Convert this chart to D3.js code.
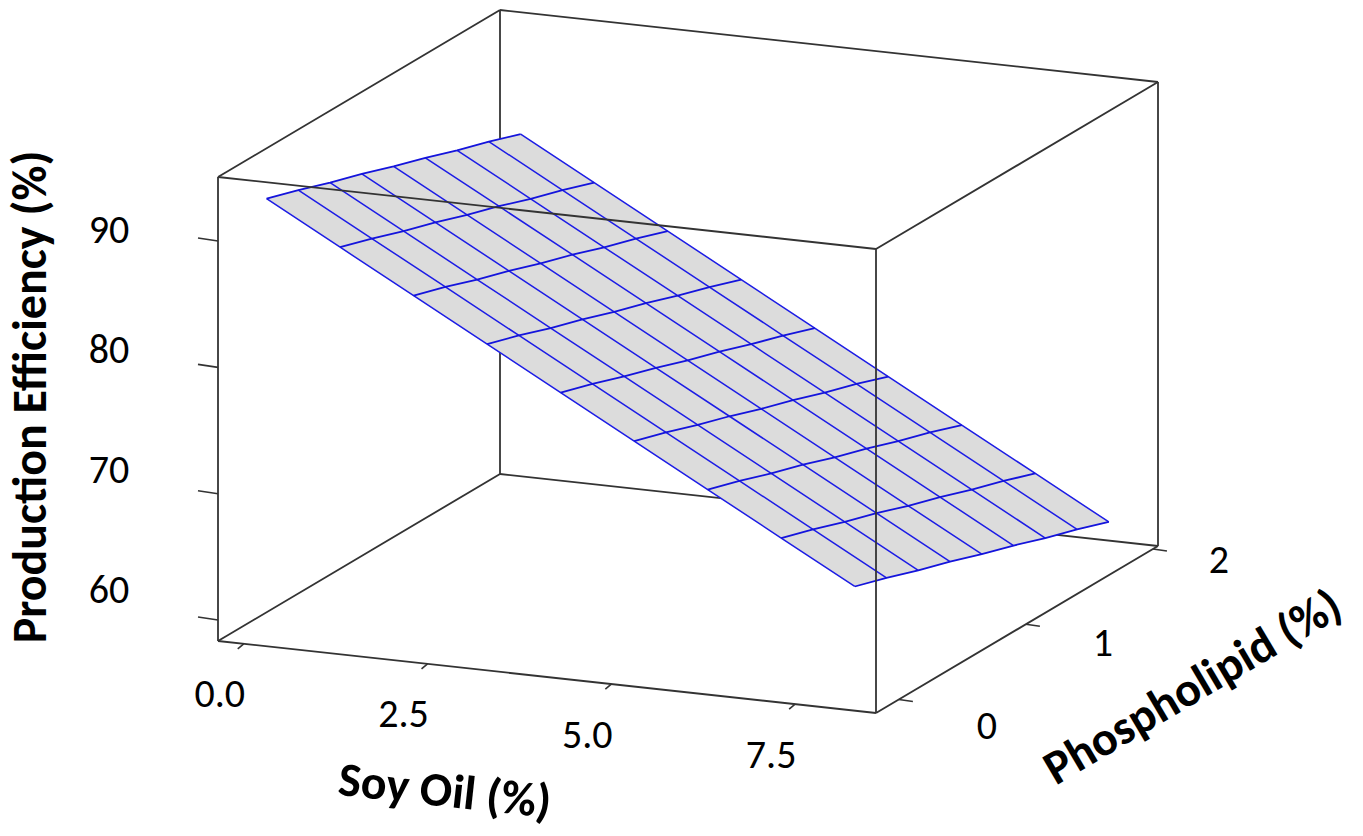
<!DOCTYPE html>
<html>
<head>
<meta charset="utf-8">
<script src="https://cdn.jsdelivr.net/npm/d3@7"></script>
<style>
  body { margin: 0; background: #fff; }
  text { font-family: Carlito, Calibri, Lato, sans-serif; fill: #000; }
</style>
</head>
<body>
<div class="surface"></div>
<script>
// factor levels of the fitted surface grid
var soyOil = [0, 1, 2, 3, 4, 5, 6, 7, 8];
var phospholipid = [0, 0.25, 0.5, 0.75, 1, 1.25, 1.5, 1.75, 2];

// production efficiency (%), one row per phospholipid level
var efficiency = [
  [92.5, 89.3, 86.1, 82.9, 79.7, 76.5, 73.3, 70.1, 66.9],
  [91.7, 88.5, 85.3, 82.1, 78.9, 75.7, 72.5, 69.3, 66.1],
  [90.8, 87.6, 84.4, 81.2, 78.0, 74.8, 71.6, 68.4, 65.2],
  [90.0, 86.8, 83.6, 80.4, 77.2, 74.0, 70.8, 67.6, 64.4],
  [89.1, 85.9, 82.7, 79.5, 76.3, 73.1, 69.9, 66.7, 63.5],
  [88.3, 85.1, 81.9, 78.7, 75.5, 72.3, 69.1, 65.9, 62.7],
  [87.4, 84.2, 81.0, 77.8, 74.6, 71.4, 68.2, 65.0, 61.8],
  [86.6, 83.4, 80.2, 77.0, 73.8, 70.6, 67.4, 64.2, 61.0],
  [85.7, 82.5, 79.3, 76.1, 72.9, 69.7, 66.5, 63.3, 60.1]
];

var effTicks = [60, 70, 80, 90];
var soyTicks = [0, 2.5, 5, 7.5];
var soyTickLabels = ["0.0", "2.5", "5.0", "7.5"];
var phosTicks = [0, 1, 2];

var soyDomain = [-0.35, 8.6];
var phosDomain = [-0.18, 2.04];
var effDomain = [58.34, 95.07];

var width = 1363, height = 836;

// oblique projection of the box
var origin = [218, 641],
    U = [658, 72],
    V = [282, -167],
    boxH = 464;

var us = d3.scaleLinear().domain(soyDomain).range([0, 1]);
var vs = d3.scaleLinear().domain(phosDomain).range([0, 1]);
var zs = d3.scaleLinear().domain(effDomain).range([0, boxH]);

function proj(u, v, z) {
  var a = us(u), b = vs(v);
  return [origin[0] + a * U[0] + b * V[0],
          origin[1] + a * U[1] + b * V[1] - zs(z)];
}

var svg = d3.select(".surface").append("svg")
  .attr("width", width)
  .attr("height", height);

var line = d3.line();

var u0 = soyDomain[0], u1 = soyDomain[1],
    v0 = phosDomain[0], v1 = phosDomain[1],
    z0 = effDomain[0], z1 = effDomain[1];

function edge(g, a, b) {
  g.append("path")
    .attr("d", line([proj(a[0], a[1], a[2]), proj(b[0], b[1], b[2])]))
    .attr("fill", "none")
    .attr("stroke", "#333")
    .attr("stroke-width", 1.8);
}

// edges hidden behind the surface
var back = svg.append("g");
edge(back, [u0, v1, z0], [u0, v1, z1]);
edge(back, [u0, v1, z0], [u1, v1, z0]);
edge(back, [u0, v0, z0], [u0, v1, z0]);

// surface cells
var surf = svg.append("g");
for (var j = 0; j < phospholipid.length - 1; j++) {
  for (var i = 0; i < soyOil.length - 1; i++) {
    var cell = [
      proj(soyOil[i], phospholipid[j], efficiency[j][i]),
      proj(soyOil[i + 1], phospholipid[j], efficiency[j][i + 1]),
      proj(soyOil[i + 1], phospholipid[j + 1], efficiency[j + 1][i + 1]),
      proj(soyOil[i], phospholipid[j + 1], efficiency[j + 1][i])
    ];
    surf.append("path")
      .attr("d", line(cell) + "Z")
      .attr("fill", "#dcdcdc")
      .attr("stroke", "#dcdcdc")
      .attr("stroke-width", 0.6);
  }
}

// mesh lines
phospholipid.forEach(function(p, j) {
  surf.append("path")
    .attr("d", line(soyOil.map(function(s, i) { return proj(s, p, efficiency[j][i]); })))
    .attr("fill", "none")
    .attr("stroke", "#1c1ce6")
    .attr("stroke-width", 1.5);
});
soyOil.forEach(function(s, i) {
  surf.append("path")
    .attr("d", line(phospholipid.map(function(p, j) { return proj(s, p, efficiency[j][i]); })))
    .attr("fill", "none")
    .attr("stroke", "#1414dc")
    .attr("stroke-width", 1.8);
});

// remaining box edges
var front = svg.append("g");
edge(front, [u0, v0, z0], [u1, v0, z0]);
edge(front, [u1, v0, z0], [u1, v1, z0]);
edge(front, [u1, v1, z0], [u1, v1, z1]);
edge(front, [u0, v0, z0], [u0, v0, z1]);
edge(front, [u0, v0, z1], [u0, v1, z1]);
edge(front, [u0, v1, z1], [u1, v1, z1]);
edge(front, [u1, v1, z1], [u1, v0, z1]);
edge(front, [u0, v0, z1], [u1, v0, z1]);
edge(front, [u1, v0, z0], [u1, v0, z1]);

// ticks and tick labels
var axes = svg.append("g");

effTicks.forEach(function(t) {
  var p = proj(u0, v0, t);
  axes.append("path")
    .attr("d", line([p, [p[0] - 20, p[1] - 3]]))
    .attr("stroke", "#333").attr("stroke-width", 1.6);
  axes.append("text")
    .attr("x", p[0] - 109)
    .attr("y", p[1] - 12 - (90 - t) * 0.62)
    .attr("text-anchor", "middle")
    .attr("dominant-baseline", "central")
    .style("font-size", "40px")
    .text(t);
});

soyTicks.forEach(function(t, k) {
  var p = proj(t, v0, z0);
  axes.append("path")
    .attr("d", line([p, [p[0] - 6, p[1] + 5]]))
    .attr("stroke", "#333").attr("stroke-width", 1.6);
  axes.append("text")
    .attr("x", p[0] - 24)
    .attr("y", p[1] + 50)
    .attr("text-anchor", "middle")
    .attr("dominant-baseline", "central")
    .style("font-size", "40px")
    .text(soyTickLabels[k]);
});

phosTicks.forEach(function(t) {
  var p = proj(u1, t, z0);
  axes.append("path")
    .attr("d", line([p, [p[0] + 14, p[1] + 2]]))
    .attr("stroke", "#333").attr("stroke-width", 1.6);
  axes.append("text")
    .attr("x", p[0] + 88 - 11 * t)
    .attr("y", p[1] + 26 - 8 * t)
    .attr("text-anchor", "middle")
    .attr("dominant-baseline", "central")
    .style("font-size", "40px")
    .text(t);
});

// axis titles
svg.append("text")
  .attr("transform", "translate(46,397) rotate(-90)")
  .attr("text-anchor", "middle")
  .style("font-size", "48px")
  .style("font-weight", "bold")
  .text("Production Efficiency (%)");

svg.append("text")
  .attr("transform", "translate(445,790) rotate(6.2)")
  .attr("text-anchor", "middle")
  .attr("dominant-baseline", "central")
  .style("font-size", "48px")
  .style("font-weight", "bold")
  .text("Soy Oil (%)");

svg.append("text")
  .attr("transform", "translate(1192,686) rotate(-30.6)")
  .attr("text-anchor", "middle")
  .attr("dominant-baseline", "central")
  .style("font-size", "48px")
  .style("font-weight", "bold")
  .text("Phospholipid (%)");
</script>
</body>
</html>
